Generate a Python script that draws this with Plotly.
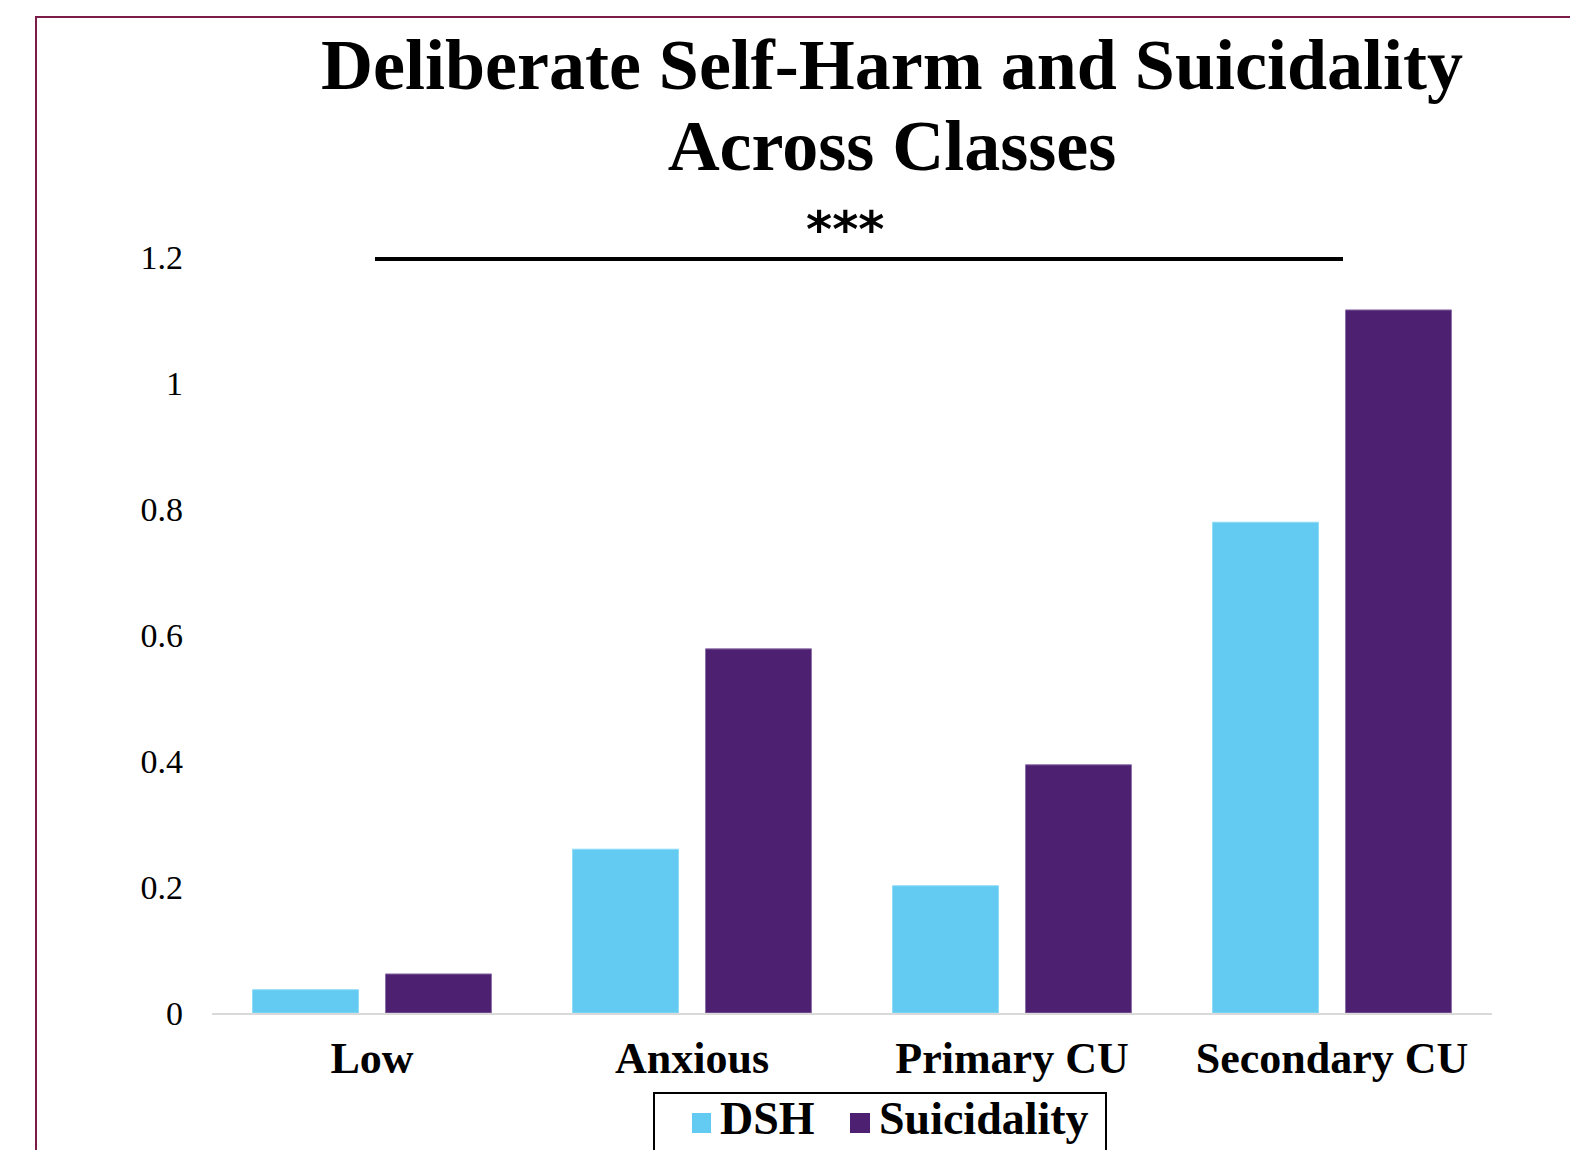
import plotly.graph_objects as go

categories = ["Low", "Anxious", "Primary CU", "Secondary CU"]
dsh = [0.037, 0.26, 0.202, 0.779]
suicidality = [0.062, 0.578, 0.394, 1.116]
y_ticks = [0, 0.2, 0.4, 0.6, 0.8, 1, 1.2]
y_tick_labels = ["0", "0.2", "0.4", "0.6", "0.8", "1", "1.2"]
series_names = ["DSH", "Suicidality"]
title_lines = ["Deliberate Self-Harm and Suicidality", "Across Classes"]
sig_label = "***"

C_DSH = "#63CBF2"
C_SUI = "#4E2071"
SERIF = "Liberation Serif, Times New Roman, serif"

fig = go.Figure()
fig.add_trace(go.Bar(name=series_names[0], x=categories, y=dsh, showlegend=False,
                     marker=dict(color=C_DSH, line=dict(color="#8fdcf7", width=1))))
fig.add_trace(go.Bar(name=series_names[1], x=categories, y=suicidality, showlegend=False,
                     marker=dict(color=C_SUI, line=dict(color="#8b6fa8", width=1))))

W, H = 1570, 1150
L, R, T, B = 212, 78, 257, 137
pw, ph = W - L - R, H - T - B

def px(xpix):
    return (xpix - L) / pw

def py(ypix):
    return (H - B - ypix) / ph

fig.update_layout(
    width=W, height=H,
    margin=dict(l=L, r=R, t=T, b=B, autoexpand=False),
    paper_bgcolor="white", plot_bgcolor="white",
    barmode="group", bargap=0.169, bargroupgap=0.203,
    font=dict(family=SERIF, color="black"),
    xaxis=dict(showline=True, linecolor="#d9d9d9", linewidth=2, ticks="",
               tickfont=dict(size=44, family=SERIF, weight="bold"),
               ticklabelstandoff=5, showgrid=False),
    yaxis=dict(range=[0, 1.2], tickvals=y_ticks, ticktext=y_tick_labels,
               showgrid=False, zeroline=False, showline=False, ticks="",
               ticklabelstandoff=28,
               tickfont=dict(size=34, family=SERIF)),
    showlegend=False,
)

# outer maroon frame
fig.add_shape(type="rect", xref="paper", yref="paper",
              x0=px(36), x1=px(1700), y0=py(1300), y1=py(17),
              line=dict(color="#7B1C48", width=2), fillcolor="rgba(0,0,0,0)", layer="below")

# significance bar
fig.add_shape(type="line", xref="paper", yref="paper",
              x0=px(375), x1=px(1343), y0=py(259), y1=py(259),
              line=dict(color="black", width=4))
fig.add_annotation(xref="paper", yref="paper", x=px(845), y=py(230),
                   text=sig_label, showarrow=False, xanchor="center", yanchor="middle",
                   font=dict(size=50, family="DejaVu Sans, sans-serif", weight="bold"))

# title (two lines in one text block; base size sets the line spacing)
title_text = "<br>".join('<span style="font-size:72px">%s</span>' % t for t in title_lines)
fig.add_annotation(xref="paper", yref="paper", x=px(892), y=py(106),
                   text=title_text, showarrow=False,
                   xanchor="center", yanchor="middle", align="center",
                   font=dict(size=62, family=SERIF, weight="bold"))

# legend (box, swatches, labels)
fig.add_shape(type="rect", xref="paper", yref="paper",
              x0=px(654), x1=px(1106), y0=py(1200), y1=py(1093),
              line=dict(color="black", width=2), fillcolor="white")
for name, color, sx0, sx1, tx in [(series_names[0], C_DSH, 692, 711, 718),
                                  (series_names[1], C_SUI, 850, 870, 877)]:
    fig.add_shape(type="rect", xref="paper", yref="paper",
                  x0=px(sx0), x1=px(sx1), y0=py(1133), y1=py(1113),
                  line=dict(width=0), fillcolor=color)
    fig.add_annotation(xref="paper", yref="paper", x=px(tx), y=py(1118),
                       text=name, showarrow=False, xanchor="left", yanchor="middle",
                       font=dict(size=46, family=SERIF, weight="bold"))

fig.write_html("out.html")
